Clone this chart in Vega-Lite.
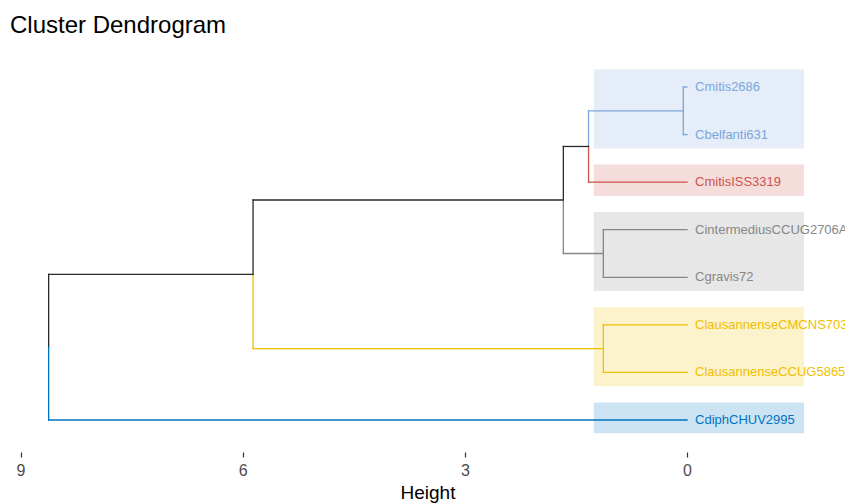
{
  "$schema": "https://vega.github.io/schema/vega-lite/v6.json",
  "autosize": "none",
  "width": 835,
  "height": 394,
  "padding": {"left": 10, "right": 0, "top": 58, "bottom": 51},
  "background": "white",
  "title": {
    "text": "Cluster Dendrogram",
    "anchor": "start",
    "frame": "group",
    "fontSize": 24,
    "fontWeight": "normal",
    "font": "Liberation Sans",
    "color": "black",
    "baseline": "alphabetic",
    "offset": 1
  },
  "config": {
    "view": {"stroke": null},
    "font": "Liberation Sans"
  },
  "datasets": {
    "rects": [
      {"cl": "lb", "y1": 0.63, "y2": 2.29},
      {"cl": "r", "y1": 2.63, "y2": 3.29},
      {"cl": "g", "y1": 3.63, "y2": 5.29},
      {"cl": "y", "y1": 5.63, "y2": 7.29},
      {"cl": "b", "y1": 7.63, "y2": 8.28}
    ],
    "segs": [
      {"cl": "lb", "h1": 0, "h2": 0.05, "p1": 1, "p2": 1},
      {"cl": "lb", "h1": 0, "h2": 0.05, "p1": 2, "p2": 2},
      {"cl": "lb", "h1": 0.05, "h2": 0.05, "p1": 1, "p2": 2},
      {"cl": "lb", "h1": 0.05, "h2": 1.33, "p1": 1.5, "p2": 1.5},
      {"cl": "r", "h1": 0, "h2": 1.33, "p1": 3, "p2": 3},
      {"cl": "lb", "h1": 1.33, "h2": 1.33, "p1": 1.5, "p2": 2.25},
      {"cl": "r", "h1": 1.33, "h2": 1.33, "p1": 2.25, "p2": 3},
      {"cl": "k", "h1": 1.33, "h2": 1.67, "p1": 2.25, "p2": 2.25},
      {"cl": "g", "h1": 0, "h2": 1.13, "p1": 4, "p2": 4},
      {"cl": "g", "h1": 0, "h2": 1.13, "p1": 5, "p2": 5},
      {"cl": "g", "h1": 1.13, "h2": 1.13, "p1": 4, "p2": 5},
      {"cl": "g", "h1": 1.13, "h2": 1.67, "p1": 4.5, "p2": 4.5},
      {"cl": "k", "h1": 1.67, "h2": 1.67, "p1": 2.25, "p2": 3.375},
      {"cl": "g", "h1": 1.67, "h2": 1.67, "p1": 3.375, "p2": 4.5},
      {"cl": "k", "h1": 1.67, "h2": 5.86, "p1": 3.375, "p2": 3.375},
      {"cl": "y", "h1": 0, "h2": 1.13, "p1": 6, "p2": 6},
      {"cl": "y", "h1": 0, "h2": 1.13, "p1": 7, "p2": 7},
      {"cl": "y", "h1": 1.13, "h2": 1.13, "p1": 6, "p2": 7},
      {"cl": "y", "h1": 1.13, "h2": 5.86, "p1": 6.5, "p2": 6.5},
      {"cl": "k", "h1": 5.86, "h2": 5.86, "p1": 3.375, "p2": 4.9375},
      {"cl": "y", "h1": 5.86, "h2": 5.86, "p1": 4.9375, "p2": 6.5},
      {"cl": "k", "h1": 5.86, "h2": 8.62, "p1": 4.9375, "p2": 4.9375},
      {"cl": "b", "h1": 0, "h2": 8.62, "p1": 8, "p2": 8},
      {"cl": "k", "h1": 8.62, "h2": 8.62, "p1": 4.9375, "p2": 6.46875},
      {"cl": "b", "h1": 8.62, "h2": 8.62, "p1": 6.46875, "p2": 8}
    ],
    "leaves": [
      {"label": "Cmitis2686", "cl": "lb", "p": 1},
      {"label": "Cbelfanti631", "cl": "lb", "p": 2},
      {"label": "CmitisISS3319", "cl": "r", "p": 3},
      {"label": "CintermediusCCUG2706A", "cl": "g", "p": 4},
      {"label": "Cgravis72", "cl": "g", "p": 5},
      {"label": "ClausannenseCMCNS703", "cl": "y", "p": 6},
      {"label": "ClausannenseCCUG5865", "cl": "y", "p": 7},
      {"label": "CdiphCHUV2995", "cl": "b", "p": 8}
    ]
  },
  "layer": [
    {
      "data": {"name": "rects"},
      "mark": {"type": "rect", "opacity": 0.2},
      "encoding": {
        "x": {"datum": 1.26, "type": "quantitative", "scale": {"domain": [-2.133, 9.142], "reverse": true, "nice": false, "zero": false},
          "axis": {"values": [9, 6, 3, 0], "format": "d", "domain": false, "grid": false, "ticks": true, "tickSize": 5, "tickColor": "#333333", "tickWidth": 1.2, "labelColor": "#4d4d4d", "labelFontSize": 16, "labelPadding": 5, "title": "Height", "titleFontSize": 19, "titleFontWeight": "normal", "titleColor": "black", "titlePadding": 5}},
        "x2": {"datum": -1.58},
        "y": {"field": "y1", "type": "quantitative", "scale": {"domain": [0.39, 8.673], "reverse": true, "nice": false, "zero": false}, "axis": null},
        "y2": {"field": "y2"},
        "fill": {"field": "cl", "type": "nominal", "scale": {"domain": ["k", "lb", "r", "g", "y", "b"], "range": ["#2a2a2a", "#7AA6DC", "#CD534C", "#868686", "#EFC000", "#0073C2"]}, "legend": null}
      }
    },
    {
      "data": {"name": "segs"},
      "mark": {"type": "rule", "strokeWidth": 1.3, "strokeCap": "square"},
      "encoding": {
        "x": {"field": "h1", "type": "quantitative"},
        "x2": {"field": "h2"},
        "y": {"field": "p1", "type": "quantitative"},
        "y2": {"field": "p2"},
        "color": {"field": "cl", "type": "nominal", "scale": {"domain": ["k", "lb", "r", "g", "y", "b"], "range": ["#2a2a2a", "#7AA6DC", "#CD534C", "#868686", "#EFC000", "#0073C2"]}, "legend": null}
      }
    },
    {
      "data": {"name": "leaves"},
      "mark": {"type": "text", "align": "left", "baseline": "middle", "dx": 8, "fontSize": 13, "font": "Liberation Sans"},
      "encoding": {
        "x": {"datum": 0, "type": "quantitative"},
        "y": {"field": "p", "type": "quantitative"},
        "text": {"field": "label"},
        "color": {"field": "cl", "type": "nominal", "scale": {"domain": ["k", "lb", "r", "g", "y", "b"], "range": ["#2a2a2a", "#7AA6DC", "#CD534C", "#868686", "#EFC000", "#0073C2"]}, "legend": null}
      }
    }
  ]
}
